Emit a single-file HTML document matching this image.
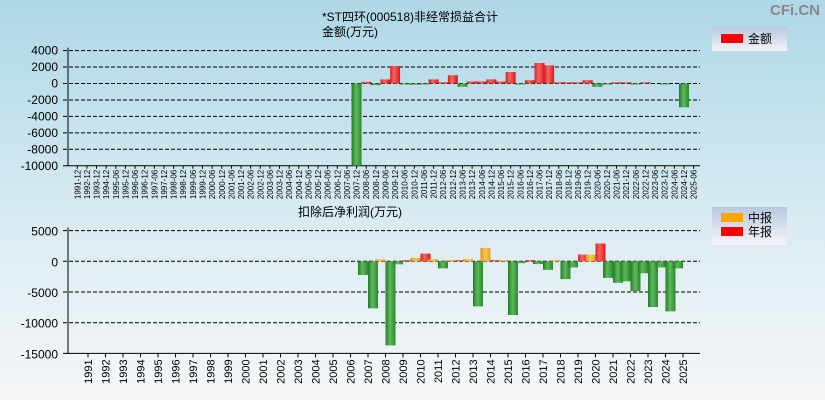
<!DOCTYPE html>
<html><head><meta charset="utf-8"><style>
html,body{margin:0;padding:0;width:825px;height:400px;overflow:hidden;}
html{background:#f7f7f8;}
body{background:linear-gradient(#aed7e7,#d9ebf2 55%,#f7f7f8);font-family:"Liberation Sans","Noto Sans CJK SC",sans-serif;}
svg{display:block;}
svg text{font-family:"Liberation Sans","Noto Sans CJK SC",sans-serif;}
</style></head><body>
<svg id="c" width="825" height="400" xmlns="http://www.w3.org/2000/svg">
<defs>
<linearGradient id="gr" x1="0" x2="1"><stop offset="0" stop-color="#c82828"/><stop offset="0.4" stop-color="#ff6060"/><stop offset="1" stop-color="#d81818"/></linearGradient>
<linearGradient id="gg" x1="0" x2="1"><stop offset="0" stop-color="#1e7e1e"/><stop offset="0.45" stop-color="#5fb85f"/><stop offset="1" stop-color="#2a8a2a"/></linearGradient>
<linearGradient id="go" x1="0" x2="1"><stop offset="0" stop-color="#e09010"/><stop offset="0.45" stop-color="#ffc850"/><stop offset="1" stop-color="#e8a020"/></linearGradient>
<linearGradient id="lg" x1="0" y1="0" x2="0" y2="1"><stop offset="0" stop-color="#b8c8e0"/><stop offset="1" stop-color="#f4f4f8"/></linearGradient>
</defs>
<text x="410" y="21" text-anchor="middle" font-size="12">*ST四环(000518)非经常损益合计</text>
<text x="350" y="36" text-anchor="middle" font-size="12">金额(万元)</text>
<text x="820" y="15" text-anchor="end" font-size="15" font-weight="bold" fill="#888">CFi.CN</text>
<text x="350" y="216" text-anchor="middle" font-size="12">扣除后净利润(万元)</text>
<g><rect x="712" y="27" width="75" height="24" fill="url(#lg)"/><rect x="721" y="34" width="22" height="9" fill="#ff0000"/><text x="748" y="43" font-size="12">金额</text></g>
<g><rect x="712" y="207" width="75" height="38" fill="url(#lg)"/><rect x="721" y="213" width="22" height="9" fill="#ffa500"/><text x="748" y="222" font-size="12">中报</text><rect x="721" y="227" width="22" height="9" fill="#ff0000"/><text x="748" y="236" font-size="12">年报</text></g>
<g id="top"></g><g id="bot"></g>
</svg>
<script>
const topCats=["1991-12","1992-12","1993-12","1994-12"];
for(let y=1995;y<=2024;y++){topCats.push(y+"-06",y+"-12");}
topCats.push("2025-06");
const topValues=[0,0,0,0, 0,0,0,0,0,0,0,0,0,0,0,0,0,0,0,0,0,0,0,0,0,0,0,0, 0,-10000,200,-200,500,2130,-50,-150,-50,500,150,1000,-400,250,250,500,250,1400,-50,400,2490,2200,150,150,150,400,-400,-50,150,150,-50,150,0,-30,0,-2890,0];
const topTicks=[4000,2000,0,-2000,-4000,-6000,-8000,-10000];
const botYears=[];for(let y=1991;y<=2025;y++)botYears.push(y);
const midValues={2007:-2230,2008:300,2009:-490,2010:550,2011:350,2012:200,2013:350,2014:2170,2015:200,2016:-300,2017:-450,2018:200,2019:-1000,2020:1100,2021:-2700,2022:-3250,2023:-1950,2024:-1000,2025:-1150};
const annualValues={2007:-7660,2008:-13700,2009:200,2010:1250,2011:-1150,2012:200,2013:-7340,2014:200,2015:-8750,2016:200,2017:-1400,2018:-2900,2019:1100,2020:2900,2021:-3500,2022:-4850,2023:-7450,2024:-8150};
const botTicks=[5000,0,-5000,-10000,-15000];
const NS="http://www.w3.org/2000/svg";
function mk(p,t,a){const e=document.createElementNS(NS,t);for(const k in a)e.setAttribute(k,a[k]);p.appendChild(e);return e;}
const X0=68,X1=700;
const gt=document.getElementById('top');
const ty=v=>83.5-(v)*16.45/2000;
const tx=i=>77.3+i*9.63;
topTicks.forEach(t=>{
 const l=mk(gt,'line',{x1:X0-5,x2:X1,y1:ty(t),y2:ty(t),stroke:'#000','stroke-width':1,'stroke-dasharray':t===-10000?'':'4,2'});
 
 
 const tt=mk(gt,'text',{x:58,y:ty(t)+4,'text-anchor':'end','font-size':12});tt.textContent=t;
 
 
});
mk(gt,'line',{x1:X0,x2:X0,y1:ty(4000)-3,y2:ty(-10000),stroke:'#000'});
topValues.forEach((v,i)=>{
 const x=tx(i);
 if(v!==0){const y0=ty(0),y1=ty(v);
 const r=mk(gt,'rect',{x:x-5,y:Math.min(y0,y1),width:10,height:Math.max(1,Math.abs(y1-y0)),fill:v>0?'url(#gr)':'url(#gg)'});
 
 }
 mk(gt,'line',{x1:x,x2:x,y1:ty(-10000),y2:ty(-10000)+3,stroke:'#000'});
 const t=mk(gt,'text',{x:0,y:0,'font-size':8,'text-anchor':'end',transform:`translate(${x+3},${ty(-10000)+4}) rotate(-90)`});
 t.textContent=topCats[i];
 
 
});
const gb=document.getElementById('bot');
const by=v=>261.3-v*30.7/5000;
const bx=i=>88+i*17.5;
botTicks.forEach(t=>{
 const l=mk(gb,'line',{x1:X0-5,x2:X1,y1:by(t),y2:by(t),stroke:'#000','stroke-dasharray':t===-15000?'':'4,2'});
 
 
 const tt=mk(gb,'text',{x:58,y:by(t)+5,'text-anchor':'end','font-size':12});tt.textContent=t;
 
 
});
mk(gb,'line',{x1:X0,x2:X0,y1:by(5000)-3,y2:by(-15000),stroke:'#000'});
botYears.forEach((yr,i)=>{
 const x=bx(i);
 [[midValues[yr],x-10,'url(#go)'],[annualValues[yr],x,'url(#gr)']].forEach(([v,bx0,pf],k)=>{
  if(v===undefined)return;
  const y0=by(0),y1=by(v);
  const r=mk(gb,'rect',{x:bx0,y:Math.min(y0,y1),width:10,height:Math.max(1,Math.abs(y1-y0)),fill:v>0?pf:'url(#gg)'});
  
  
 });
 mk(gb,'line',{x1:x,x2:x,y1:by(-15000),y2:by(-15000)+4,stroke:'#000'});
 const t=mk(gb,'text',{x:0,y:0,'font-size':11,'text-anchor':'end',transform:`translate(${x+4},${by(-15000)+6}) rotate(-90)`});
 t.textContent=yr;
 
 
});
</script>
</body></html>
